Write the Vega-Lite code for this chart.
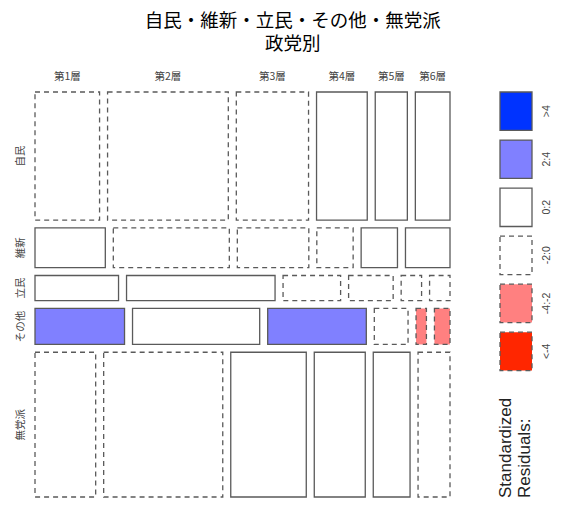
{
  "$schema": "https://vega.github.io/schema/vega-lite/v6.json",
  "padding": {"left": 16, "top": 11, "right": 5, "bottom": 5},
  "title": {
    "text": ["自民・維新・立民・その他・無党派", "政党別"],
    "anchor": "middle",
    "font": "Noto Sans CJK JP",
    "fontSize": 18.5,
    "fontWeight": "normal",
    "lineHeight": 23,
    "offset": 19,
    "dx": 9,
    "color": "#000000"
  },
  "spacing": 46,
  "resolve": {"scale": {"x": "independent", "y": "independent"}},
  "config": {"view": {"stroke": null}},
  "hconcat": [
    {
      "width": 415,
      "height": 405,
      "data": {
        "values": [
          {"party": "自民", "class": "第1層", "count": 177, "res": "-2:0"},
          {"party": "自民", "class": "第2層", "count": 331, "res": "-2:0"},
          {"party": "自民", "class": "第3層", "count": 198, "res": "-2:0"},
          {"party": "自民", "class": "第4層", "count": 139, "res": "0:2"},
          {"party": "自民", "class": "第5層", "count": 88, "res": "0:2"},
          {"party": "自民", "class": "第6層", "count": 95, "res": "0:2"},
          {"party": "維新", "class": "第1層", "count": 60, "res": "0:2"},
          {"party": "維新", "class": "第2層", "count": 99, "res": "-2:0"},
          {"party": "維新", "class": "第3層", "count": 61, "res": "-2:0"},
          {"party": "維新", "class": "第4層", "count": 31, "res": "-2:0"},
          {"party": "維新", "class": "第5層", "count": 31, "res": "0:2"},
          {"party": "維新", "class": "第6層", "count": 38, "res": "0:2"},
          {"party": "立民", "class": "第1層", "count": 45, "res": "0:2"},
          {"party": "立民", "class": "第2層", "count": 80, "res": "0:2"},
          {"party": "立民", "class": "第3層", "count": 31, "res": "-2:0"},
          {"party": "立民", "class": "第4層", "count": 24, "res": "-2:0"},
          {"party": "立民", "class": "第5層", "count": 11, "res": "-2:0"},
          {"party": "立民", "class": "第6層", "count": 11, "res": "-2:0"},
          {"party": "その他", "class": "第1層", "count": 69, "res": "2:4"},
          {"party": "その他", "class": "第2層", "count": 98, "res": "0:2"},
          {"party": "その他", "class": "第3層", "count": 76, "res": "2:4"},
          {"party": "その他", "class": "第4層", "count": 26, "res": "-2:0"},
          {"party": "その他", "class": "第5層", "count": 8, "res": "-4:-2"},
          {"party": "その他", "class": "第6層", "count": 12, "res": "-4:-2"},
          {"party": "無党派", "class": "第1層", "count": 188, "res": "-2:0"},
          {"party": "無党派", "class": "第2層", "count": 369, "res": "-2:0"},
          {"party": "無党派", "class": "第3層", "count": 234, "res": "0:2"},
          {"party": "無党派", "class": "第4層", "count": 158, "res": "0:2"},
          {"party": "無党派", "class": "第5層", "count": 114, "res": "0:2"},
          {"party": "無党派", "class": "第6層", "count": 99, "res": "-2:0"}
        ]
      },
      "transform": [
        {"calculate": "indexof(['自民','維新','立民','その他','無党派'], datum.party)", "as": "pi"},
        {"calculate": "indexof(['第1層','第2層','第3層','第4層','第5層','第6層'], datum['class'])", "as": "ci"},
        {"calculate": "indexof(['-2:0','-4:-2','<-4'], datum.res) >= 0", "as": "neg"},
        {"joinaggregate": [{"op": "sum", "field": "count", "as": "rowTotal"}], "groupby": ["party"]},
        {"joinaggregate": [{"op": "sum", "field": "count", "as": "total"}]},
        {"stack": "count", "groupby": ["party"], "sort": [{"field": "ci", "order": "ascending"}], "offset": "normalize", "as": ["cx0", "cx1"]},
        {"window": [{"op": "sum", "field": "count", "as": "cumEnd"}], "sort": [{"field": "pi", "order": "ascending"}], "frame": [null, 0], "ignorePeers": false},
        {"calculate": "datum.cx0 + datum.ci * 8 / 375", "as": "x0"},
        {"calculate": "datum.cx1 + datum.ci * 8 / 375", "as": "x1"},
        {"calculate": "(datum.cumEnd - datum.rowTotal) / datum.total + datum.pi * 7.8 / 373.7", "as": "y0"},
        {"calculate": "datum.cumEnd / datum.total + datum.pi * 7.8 / 373.7", "as": "y1"},
        {"calculate": "(datum.x0 + datum.x1) / 2", "as": "xm"},
        {"calculate": "(datum.y0 + datum.y1) / 2", "as": "ym"}
      ],
      "encoding": {
        "x": {"field": "x0", "type": "quantitative", "scale": {"domain": [0, 1.10667], "nice": false, "zero": false}, "axis": null},
        "y": {"field": "y0", "type": "quantitative", "scale": {"domain": [0, 1.08349], "nice": false, "zero": false, "reverse": true}, "axis": null}
      },
      "layer": [
        {
          "transform": [{"filter": "!datum.neg"}],
          "mark": {"type": "rect", "stroke": "#5a5a5a", "strokeWidth": 1.3},
          "encoding": {
            "x2": {"field": "x1"},
            "y2": {"field": "y1"},
            "fill": {
              "field": "res", "type": "nominal",
              "scale": {"domain": [">4", "2:4", "0:2", "-2:0", "-4:-2", "<-4"], "range": ["#0033FF", "#8080FF", "#FFFFFF", "#FFFFFF", "#FF8080", "#FF2600"]},
              "legend": null
            }
          }
        },
        {
          "transform": [{"filter": "datum.neg"}],
          "mark": {"type": "rect", "stroke": "#5a5a5a", "strokeWidth": 1.3, "strokeDash": [5, 4]},
          "encoding": {
            "x2": {"field": "x1"},
            "y2": {"field": "y1"},
            "fill": {
              "field": "res", "type": "nominal",
              "scale": {"domain": [">4", "2:4", "0:2", "-2:0", "-4:-2", "<-4"], "range": ["#0033FF", "#8080FF", "#FFFFFF", "#FFFFFF", "#FF8080", "#FF2600"]},
              "legend": null
            }
          }
        },
        {
          "transform": [{"filter": "datum.pi === 0"}],
          "mark": {"type": "text", "yOffset": -15, "font": "Noto Sans CJK JP", "fontSize": 10.5, "color": "#444444", "baseline": "middle", "align": "center"},
          "encoding": {
            "x": {"field": "xm", "type": "quantitative"},
            "text": {"field": "class"}
          }
        },
        {
          "transform": [{"filter": "datum.ci === 0"}],
          "mark": {"type": "text", "angle": 270, "xOffset": -14, "font": "Noto Sans CJK JP", "fontSize": 10.5, "color": "#444444", "baseline": "middle", "align": "center"},
          "encoding": {
            "y": {"field": "ym", "type": "quantitative"},
            "text": {"field": "party"}
          }
        }
      ]
    },
    {
      "width": 32,
      "height": 405,
      "layer": [
        {
          "data": {
            "values": [
              {"res": ">4", "neg": false},
              {"res": "2:4", "neg": false},
              {"res": "0:2", "neg": false},
              {"res": "-2:0", "neg": true},
              {"res": "-4:-2", "neg": true},
              {"res": "<-4", "neg": true}
            ]
          },
          "encoding": {
            "y": {
              "field": "res", "type": "nominal",
              "sort": [">4", "2:4", "0:2", "-2:0", "-4:-2", "<-4"],
              "scale": {"paddingInner": 0.2, "paddingOuter": 0, "range": [0, 278.6]},
              "axis": {
                "orient": "right", "title": null, "domain": false, "ticks": false,
                "labelAngle": 270, "labelAlign": "center", "labelBaseline": "top",
                "labelPadding": 9, "labelFont": "Liberation Sans", "labelFontSize": 10.5,
                "labelColor": "#444444"
              }
            },
            "fill": {
              "field": "res", "type": "nominal",
              "scale": {"domain": [">4", "2:4", "0:2", "-2:0", "-4:-2", "<-4"], "range": ["#0033FF", "#8080FF", "#FFFFFF", "#FFFFFF", "#FF8080", "#FF2600"]},
              "legend": null
            }
          },
          "layer": [
            {
              "transform": [{"filter": "!datum.neg"}],
              "mark": {"type": "rect", "stroke": "#5a5a5a", "strokeWidth": 1.3}
            },
            {
              "transform": [{"filter": "datum.neg"}],
              "mark": {"type": "rect", "stroke": "#5a5a5a", "strokeWidth": 1.3, "strokeDash": [5, 4]}
            }
          ]
        },
        {
          "data": {"values": [{"label": "Standardized Residuals:"}]},
          "mark": {"type": "text", "angle": 270, "align": "left", "baseline": "top", "font": "Liberation Sans", "fontSize": 17, "lineHeight": 19, "color": "#222222"},
          "encoding": {
            "x": {"value": -2},
            "y": {"value": 406},
            "text": {"value": ["Standardized", "Residuals:"]}
          }
        }
      ]
    }
  ]
}
